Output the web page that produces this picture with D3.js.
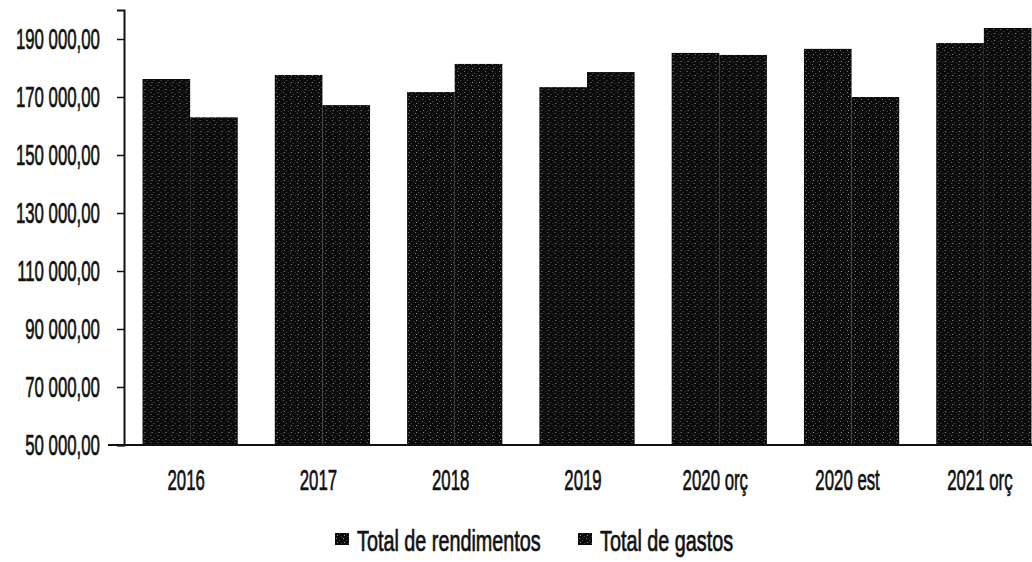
<!DOCTYPE html>
<html>
<head>
<meta charset="utf-8">
<script src="https://cdn.jsdelivr.net/npm/d3@7"></script>
<style>
  body { margin: 0; background: #fff; }
  text { font-family: "Liberation Sans", Arial, sans-serif; fill: #111; stroke: #111; stroke-width: 0.7px; }
</style>
</head>
<body>
<div id="chart"></div>
<script>
// data
var years = ['2016', '2017', '2018', '2019', '2020 orç', '2020 est', '2021 orç'];
var rendimentos = [176200, 177600, 171700, 173400, 185200, 186600, 188600];
var gastos = [163000, 167200, 181400, 178600, 184500, 170000, 193800];
var seriesNames = ['Total de rendimentos', 'Total de gastos'];
var yTicks = [50000, 70000, 90000, 110000, 130000, 150000, 170000, 190000];

var svgWidth = 1032;
var svgHeight = 562;

// the original uses a very condensed face, so squeeze the text horizontally
var numSqueeze = 0.56;
var legSqueeze = 0.66;

var svg = d3.select('#chart')
    .append('svg')
    .attr('width', svgWidth)
    .attr('height', svgHeight);

// grainy dark fill like the scanned original
var defs = svg.append('defs');
var pat = defs.append('pattern')
    .attr('id', 'grain')
    .attr('width', 7)
    .attr('height', 7)
    .attr('patternUnits', 'userSpaceOnUse');
pat.append('rect').attr('width', 7).attr('height', 7).attr('fill', '#0a0a0a');
[[1, 1, '#777'], [4, 3, '#555'], [2, 5, '#999'], [6, 6, '#444']].forEach(function(p) {
    pat.append('rect').attr('x', p[0]).attr('y', p[1]).attr('width', 1).attr('height', 1).attr('fill', p[2]);
});

var plotLeft = 124, plotTop = 10, plotBottom = 445, plotRight = 1050;

var x0 = d3.scaleBand()
    .domain(years)
    .range([plotLeft, plotRight])
    .paddingInner(0.28)
    .paddingOuter(0.14);

var x1 = d3.scaleBand()
    .domain(seriesNames)
    .range([0, x0.bandwidth()]);

var y = d3.scaleLinear()
    .domain([50000, 200000])
    .range([plotBottom, plotTop]);

var locale = d3.formatLocale({ decimal: ',', thousands: ' ', grouping: [3], currency: ['', ''] });
var fmt = locale.format(',.2f');

// bars
var table = years.map(function(yr, i) {
    return { year: yr, values: [rendimentos[i], gastos[i]] };
});

var groups = svg.selectAll('.grp')
    .data(table)
    .enter()
    .append('g')
    .attr('transform', d => `translate(${x0(d.year)},0)`);

groups.selectAll('rect')
    .data(d => d.values.map((v, j) => ({ name: seriesNames[j], value: v })))
    .enter()
    .append('rect')
    .attr('x', d => x1(d.name))
    .attr('y', d => y(d.value))
    .attr('width', x1.bandwidth())
    .attr('height', d => y(50000) - y(d.value))
    .attr('fill', 'url(#grain)');

// y axis
var yAxis = svg.append('g')
    .attr('transform', `translate(${plotLeft},0)`)
    .call(d3.axisLeft(y).tickValues(yTicks).tickFormat(fmt).tickSize(7).tickPadding(36));
yAxis.select('.domain').attr('stroke', '#111').attr('stroke-width', 2);
yAxis.selectAll('.tick line').attr('stroke', '#111').attr('stroke-width', 1.5);
yAxis.selectAll('.tick text')
    .style('font-size', '30px')
    .attr('fill', '#111')
    .attr('transform', `scale(${numSqueeze},1)`);

// base line
svg.append('line')
    .attr('x1', 108).attr('x2', svgWidth)
    .attr('y1', plotBottom).attr('y2', plotBottom)
    .attr('stroke', '#111').attr('stroke-width', 2);

// x labels
svg.selectAll('.xlab')
    .data(years)
    .enter()
    .append('text')
    .attr('class', 'xlab')
    .attr('transform', d => `translate(${x0(d) + x0.bandwidth() / 2 - 4},490) scale(${numSqueeze},1)`)
    .attr('text-anchor', 'middle')
    .style('font-size', '30px')
    .text(d => d);

// legend
var legendX = [335, 578];
var legend = svg.selectAll('.leg')
    .data(seriesNames)
    .enter()
    .append('g')
    .attr('transform', (d, i) => `translate(${legendX[i]},551)`);
legend.append('rect')
    .attr('x', 0).attr('y', -18)
    .attr('width', 14).attr('height', 12)
    .attr('fill', 'url(#grain)');
legend.append('text')
    .attr('transform', `translate(22,0) scale(${legSqueeze},1)`)
    .style('font-size', '30px')
    .text(d => d);
</script>
</body>
</html>
